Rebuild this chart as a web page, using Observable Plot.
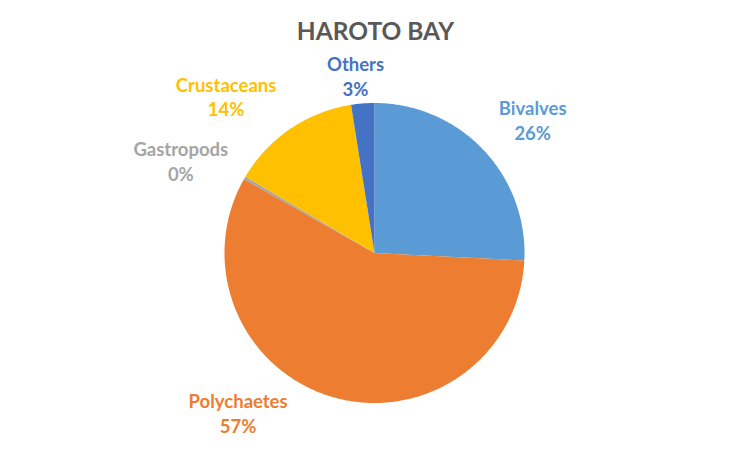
<!DOCTYPE html>
<html>
<head>
<meta charset="utf-8">
<script src="https://cdn.jsdelivr.net/npm/d3@7"></script>
<script src="https://cdn.jsdelivr.net/npm/@observablehq/plot@0.6"></script>
<style>
  html, body { margin: 0; padding: 0; background: #fff; }
</style>
</head>
<body>
<div id="chart"></div>
<script>
// ---- data ----
const title = "HAROTO BAY";
const categories = ["Bivalves", "Polychaetes", "Gastropods", "Crustaceans", "Others"];
const shares = [25.8, 57.4, 0.3, 14.0, 2.5];   // percent
const colors = ["#5B9BD5", "#ED7D31", "#A5A5A5", "#FFC000", "#4472C4"];

// ---- layout (label placement tweaks, like Excel "best fit") ----
const labelNudge = { Bivalves: [3.4, 1.38], Polychaetes: [24.3, 1.40], Gastropods: [-4.6, 1.43], Crustaceans: [-9.2, 1.44], Others: [-1.6, 1.19] };

// ---- geometry from data ----
const total = d3.sum(shares);
let acc = 0;
const slices = categories.map((name, i) => {
  const a0 = acc / total * 2 * Math.PI;
  acc += shares[i];
  const a1 = acc / total * 2 * Math.PI;
  return { name, value: shares[i], a0, a1 };
});

const polyPts = [];
for (const s of slices) {
  polyPts.push({ name: s.name, x: 0, y: 0 });
  const n = Math.max(2, Math.ceil((s.a1 - s.a0) / (Math.PI / 360)));
  for (let k = 0; k <= n; k++) {
    const t = s.a0 + (s.a1 - s.a0) * k / n;
    polyPts.push({ name: s.name, x: Math.sin(t), y: Math.cos(t) });
  }
}

const labels = slices.map(s => {
  const [dAng, r] = labelNudge[s.name];
  const t = (s.a0 + s.a1) / 2 + dAng * Math.PI / 180;
  return { name: s.name, x: r * Math.sin(t), y: r * Math.cos(t), text: `${s.name}\n${Math.round(s.value)}%` };
});

const R = 150, cx = 374, cy = 252.5, W = 750, H = 450;

const chart = Plot.plot({
  width: W,
  height: H,
  margin: 0,
  style: { fontFamily: "Lato, 'Open Sans', sans-serif", background: "#fff" },
  x: { domain: [-cx / R, (W - cx) / R], axis: null },
  y: { domain: [(cy - H) / R, cy / R], axis: null },
  color: { domain: categories, range: colors },
  marks: [
    Plot.line(polyPts, { x: "x", y: "y", z: "name", fill: "name", stroke: "none", curve: "linear-closed" }),
    Plot.text(labels, { x: "x", y: "y", text: "text", fill: "name", fontSize: 18.5, fontWeight: "bold", lineHeight: 1.32 }),
    Plot.text([title], { frameAnchor: "top", dy: 22, text: d => d, fill: "#595959", fontSize: 24.5, fontWeight: "bold" })
  ]
});
document.getElementById("chart").appendChild(chart);
</script>
</body>
</html>
